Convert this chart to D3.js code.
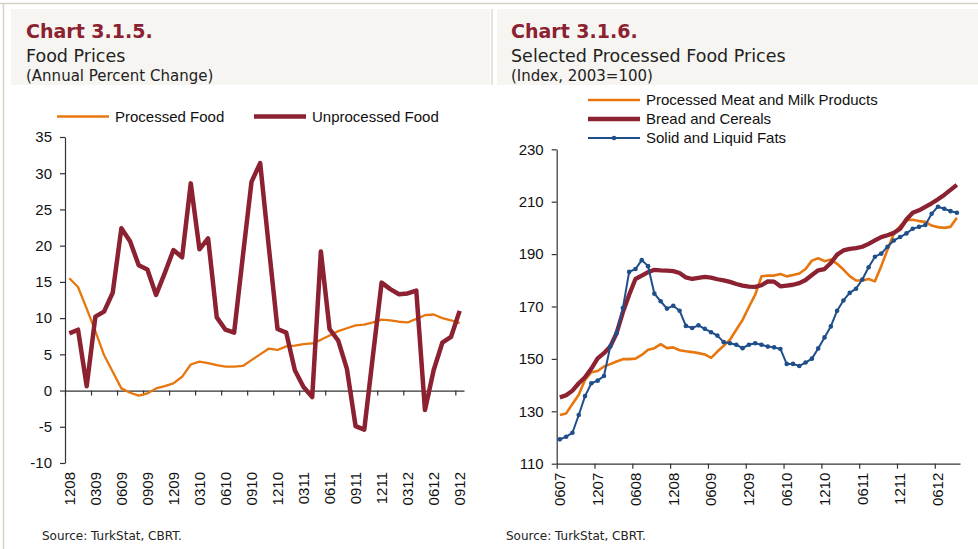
<!DOCTYPE html>
<html>
<head>
<meta charset="utf-8">
<script src="https://cdn.jsdelivr.net/npm/d3@7"></script>
<style>
  body { margin: 0; background: #fff; }
  svg { display: block; }
  .axis text { font-family: "Liberation Sans", Arial, sans-serif; font-size: 15px; fill: #111; }
  .axis path, .axis line { stroke: #333; stroke-width: 1.2px; }
  .legend text { font-family: "Liberation Sans", Arial, sans-serif; font-size: 15px; fill: #111; }
  .title { font-family: "DejaVu Sans", sans-serif; }
</style>
</head>
<body>
<svg id="chart" width="978" height="549"></svg>
<script>
// ---- data ----
// Chart 3.1.5, annual % change, monthly 12/08 .. 09/12
var processedFood = [15.5, 14.3, 11.3, 8.2, 4.9, 2.6, 0.3, -0.3, -0.7, -0.4, 0.3,
  0.6, 1.0, 1.9, 3.6, 4.0, 3.8, 3.5, 3.3, 3.3, 3.4,
  4.2, 5.0, 5.8, 5.6, 6.1, 6.2, 6.4, 6.5, 7.0, 7.6,
  8.2, 8.6, 9.0, 9.1, 9.4, 9.8, 9.7, 9.5, 9.4, 9.9,
  10.4, 10.5, 10.0, 9.7, 9.3];
var unprocessedFood = [7.9, 8.4, 0.6, 10.2, 10.9, 13.5, 22.4, 20.6, 17.3, 16.7, 13.2,
  16.2, 19.4, 18.4, 28.6, 19.5, 21.0, 10.1, 8.4, 8.0, 18.5,
  28.8, 31.4, 19.8, 8.5, 8.0, 2.8, 0.5, -0.9, 19.2, 8.5,
  6.9, 3.0, -4.9, -5.4, 4.8, 14.9, 14.0, 13.3, 13.4, 13.8,
  -2.7, 2.8, 6.6, 7.4, 11.0];
var leftTickLabels = ["1208", "0309", "0609", "0909", "1209", "0310", "0610", "0910",
  "1210", "0311", "0611", "0911", "1211", "0312", "0612", "0912"];
var leftYTicks = [-10, -5, 0, 5, 10, 15, 20, 25, 30, 35];

// Chart 3.1.6, index 2003=100, monthly 06/07 .. 09/12
var meatMilk = [128.6, 129.2, 132.8, 136.3, 142.0, 144.9, 145.4, 147.1, 148.0, 149.0, 149.9,
  149.9, 150.1, 151.5, 153.5, 154.1, 155.6, 154.1, 154.4, 153.3, 152.9,
  152.6, 152.2, 151.7, 150.4, 152.8, 155.0, 157.3, 161.1, 164.9, 169.8,
  174.5, 181.5, 181.8, 181.8, 182.4, 181.5, 182.0, 182.6, 184.3, 187.5,
  188.4, 187.3, 187.9, 186.3, 184.1, 181.6, 179.9, 179.9, 180.5, 179.6,
  185.4, 191.7, 197.9, 200.7, 202.9, 203.1, 202.6, 202.3, 200.9, 200.3,
  200.0, 200.4, 203.9];
var breadCereals = [135.3, 136.1, 137.9, 140.7, 143.0, 146.3, 150.2, 152.2, 154.7, 159.8, 167.8,
  174.5, 180.5, 181.8, 183.1, 184.0, 183.8, 183.7, 183.5, 182.8, 181.1,
  180.5, 180.9, 181.3, 181.0, 180.4, 180.0, 179.4, 178.6, 178.0, 177.6,
  177.5, 178.1, 179.6, 179.5, 177.7, 178.0, 178.3, 178.9, 180.1, 182.0,
  183.8, 184.3, 186.6, 189.8, 191.4, 192.0, 192.3, 192.8, 193.9, 195.2,
  196.5, 197.2, 198.1, 199.7, 203.2, 205.8, 206.7, 208.0, 209.4, 210.9,
  212.6, 214.5, 216.4];
var fats = [119.3, 120.3, 121.8, 128.6, 135.8, 140.7, 141.7, 143.5, 154.7, 159.8, 169.4,
  183.2, 184.3, 187.7, 185.4, 174.9, 172.0, 169.2, 170.3, 168.4, 162.6,
  161.8, 162.8, 161.5, 160.2, 158.9, 156.4, 156.0, 155.4, 154.1, 155.4,
  156.0, 155.4, 154.7, 154.4, 153.8, 148.1, 148.1, 147.3, 148.6, 150.1,
  154.0, 158.2, 162.4, 168.4, 172.3, 175.2, 176.8, 180.3, 185.0, 189.0,
  190.2, 192.8, 195.2, 196.5, 197.9, 199.7, 200.4, 201.1, 205.4, 208.1,
  207.3, 206.4, 205.8];
var rightTickLabels = ["0607", "1207", "0608", "1208", "0609", "1209", "0610", "1210",
  "0611", "1211", "0612"];
var rightYTicks = [110, 130, 150, 170, 190, 210, 230];

var ORANGE = "#e8760e", RED = "#8b2131", BLUE = "#1f4e8a";

// month keys as MMYY
function monthKeys(year, month, n) {
  var out = [];
  for (var i = 0; i < n; i++) {
    out.push((month < 10 ? "0" : "") + month + String(year).slice(2));
    month++;
    if (month > 12) { month = 1; year++; }
  }
  return out;
}
var leftMonths = monthKeys(2008, 12, processedFood.length);
var rightMonths = monthKeys(2007, 6, meatMilk.length);

var svg = d3.select("#chart");

// frame + title boxes
svg.append("line").attr("x1", 0).attr("x2", 978).attr("y1", 3.5).attr("y2", 3.5)
  .attr("stroke", "#d6d1c4").attr("stroke-width", 1.5);
svg.append("line").attr("x1", 3.5).attr("x2", 3.5).attr("y1", 3).attr("y2", 549)
  .attr("stroke", "#d6d1c4").attr("stroke-width", 1.5);
svg.append("rect").attr("x", 11).attr("y", 9).attr("width", 479).attr("height", 76).attr("fill", "#f6f5f1");
svg.append("rect").attr("x", 497).attr("y", 9).attr("width", 481).attr("height", 76).attr("fill", "#f6f5f1");
svg.append("line").attr("x1", 492).attr("x2", 492).attr("y1", 9).attr("y2", 85)
  .attr("stroke", "#d6d1c4").attr("stroke-width", 1.2);

function titles(x, t1, t2, t3) {
  var g = svg.append("g").attr("class", "title");
  g.append("text").attr("x", x).attr("y", 38).attr("fill", RED)
    .attr("font-size", 19).attr("font-weight", "bold").text(t1);
  g.append("text").attr("x", x).attr("y", 62).attr("fill", "#222")
    .attr("font-size", 17.5).text(t2);
  g.append("text").attr("x", x).attr("y", 81).attr("fill", "#222")
    .attr("font-size", 15).text(t3);
}
titles(26, "Chart 3.1.5.", "Food Prices", "(Annual Percent Change)");
titles(511, "Chart 3.1.6.", "Selected Processed Food Prices", "(Index, 2003=100)");

function source(x) {
  svg.append("text").attr("class", "title").attr("x", x).attr("y", 540)
    .attr("font-size", 12).attr("fill", "#222").text("Source: TurkStat, CBRT.");
}
source(42);
source(506);

// one panel: band scale for months, ticks between categories
function panel(cfg) {
  var x = d3.scaleBand().domain(cfg.months).range([cfg.left, cfg.right]).padding(0);
  var xi = d3.scaleLinear().domain([0, cfg.months.length]).range([cfg.left, cfg.right]);
  var y = d3.scaleLinear().domain(cfg.yDomain).range([cfg.bottom, cfg.top]);
  var cx = function(i) { return x(cfg.months[i]) + x.bandwidth() / 2; };

  svg.append("g").attr("class", "axis")
    .attr("transform", "translate(" + cfg.left + ",0)")
    .call(d3.axisLeft(y).tickValues(cfg.yTicks).tickFormat(String)
      .tickSize(5).tickSizeOuter(0).tickPadding(8));

  svg.append("g").attr("class", "axis")
    .attr("transform", "translate(0," + y(cfg.xAxisAt) + ")")
    .call(d3.axisBottom(xi).tickValues(d3.range(0, cfg.months.length, cfg.every))
      .tickSize(5).tickSizeOuter(0).tickFormat(""));

  var lab = svg.append("g").attr("class", "axis")
    .attr("transform", "translate(0," + cfg.bottom + ")")
    .call(d3.axisBottom(x).tickValues(cfg.tickLabels).tickSize(0));
  lab.select(".domain").remove();
  lab.selectAll("text")
    .attr("transform", "rotate(-90)")
    .attr("x", -9).attr("y", 0).attr("dy", "0.35em")
    .style("text-anchor", "end");

  cfg.series.forEach(function(s) {
    var line = d3.line().x(function(d, i) { return cx(i); }).y(function(d) { return y(d); });
    svg.append("path").datum(s.values)
      .attr("fill", "none").attr("stroke", s.color).attr("stroke-width", s.width)
      .attr("stroke-linejoin", "round").attr("d", line);
    if (s.marker) {
      svg.append("g").selectAll("circle").data(s.values).join("circle")
        .attr("cx", function(d, i) { return cx(i); })
        .attr("cy", function(d) { return y(d); })
        .attr("r", 2.3).attr("fill", s.color);
    }
  });

  var lg = svg.append("g").attr("class", "legend");
  cfg.legend.forEach(function(s, k) {
    var p = cfg.legendPos[k];
    lg.append("line").attr("x1", p[0]).attr("x2", p[0] + 52).attr("y1", p[1]).attr("y2", p[1])
      .attr("stroke", s.color).attr("stroke-width", s.width);
    if (s.marker) lg.append("circle").attr("cx", p[0] + 26).attr("cy", p[1]).attr("r", 2.3).attr("fill", s.color);
    lg.append("text").attr("x", p[0] + 58).attr("y", p[1]).attr("dy", "0.35em").text(s.name);
  });
}

var leftSeries = [
  { name: "Processed Food", values: processedFood, color: ORANGE, width: 2.3 },
  { name: "Unprocessed Food", values: unprocessedFood, color: RED, width: 4.5 }
];
panel({
  months: leftMonths, left: 65, right: 464, top: 137, bottom: 463,
  yDomain: [-10, 35], yTicks: leftYTicks, xAxisAt: 0, every: 3,
  tickLabels: leftTickLabels,
  series: leftSeries, legend: leftSeries, legendPos: [[57, 116.5], [254, 116.5]]
});

var rightSeries = [
  { name: "Processed Meat and Milk Products", values: meatMilk, color: ORANGE, width: 2.6 },
  { name: "Bread and Cereals", values: breadCereals, color: RED, width: 4.3 },
  { name: "Solid and Liquid Fats", values: fats, color: BLUE, width: 2, marker: true }
];
panel({
  months: rightMonths, left: 556.7, right: 960, top: 149.3, bottom: 463.7,
  yDomain: [110, 230], yTicks: rightYTicks, xAxisAt: 110, every: 6,
  tickLabels: rightTickLabels,
  series: rightSeries, legend: rightSeries, legendPos: [[588, 100], [588, 119], [588, 138]]
});
</script>
</body>
</html>
